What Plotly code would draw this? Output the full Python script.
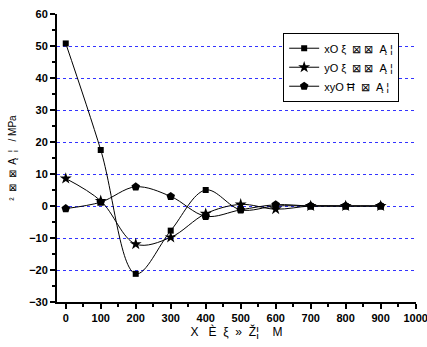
import plotly.graph_objects as go

depth = [0, 100, 200, 300, 400, 500, 600, 700, 800, 900]
sx = [50.8, 17.5, -21.2, -7.7, 5.0, -1.2, 0.0, 0.0, 0.0, 0.0]
sy = [8.6, 1.6, -11.9, -9.8, -2.4, 0.5, -1.0, 0.0, 0.0, 0.0]
sxy = [-0.8, 1.2, 6.0, 3.0, -3.2, -1.2, 0.4, 0.0, 0.0, 0.0]

names = ["xO ξ  ⊠ ⊠  Ą ¦", "yO ξ  ⊠ ⊠  Ą ¦", "xyO Ħ  ⊠  Ą ¦"]
xtitle = "X   Ѐ  ξ  »  Ž¦    M"
ytitle = "²  ⊠  ⊠  Ą  ¦   / MPa"
grid_vals = [-20, -10, 0, 10, 20, 30, 40, 50]

fig = go.Figure()
for ys, nm, sym, sz in [(sx, names[0], "square", 6), (sy, names[1], "star", 9), (sxy, names[2], "pentagon", 9)]:
    fig.add_trace(go.Scatter(
        x=depth, y=ys, name=nm, mode="lines+markers",
        line=dict(color="black", width=1, shape="spline", smoothing=1.0),
        marker=dict(symbol=sym, size=sz, color="black"),
    ))

fig.add_trace(go.Scatter(x=[None], y=[None], yaxis="y2", showlegend=False, hoverinfo="skip"))

tickfont = dict(family="Liberation Sans, Arial", size=11, color="black", weight="bold")
fig.update_layout(
    width=427, height=347,
    margin=dict(l=57, r=11, t=14, b=45, autoexpand=False),
    plot_bgcolor="white", paper_bgcolor="white",
    font=dict(family="Liberation Sans, Arial", color="black"),
    xaxis=dict(range=[-25, 1001], tickvals=list(range(0, 1001, 100)), automargin=False,
               ticklabeloverflow="allow",
               showgrid=False, zeroline=False, showline=True, linecolor="black", linewidth=2,
               ticks="outside", ticklen=5, tickwidth=2, tickcolor="black",
               minor=dict(ticks="outside", dtick=50, tick0=0, ticklen=3, tickwidth=2, tickcolor="black", showgrid=False),
               tickfont=tickfont,
               title=dict(text=xtitle, font=dict(size=12, color="black"), standoff=4)),
    yaxis=dict(range=[-30, 60], dtick=10, tick0=0, automargin=False,
               showgrid=False, zeroline=False, showline=True, linecolor="black", linewidth=2,
               ticks="outside", ticklen=5, tickwidth=2, tickcolor="black",
               minor=dict(ticks="outside", dtick=5, tick0=0, ticklen=3, tickwidth=2, tickcolor="black", showgrid=False),
               tickfont=tickfont,
               title=dict(text=ytitle, font=dict(size=10, color="black"), standoff=11)),
    yaxis2=dict(range=[-30, 60], overlaying="y", tickvals=grid_vals, showticklabels=False, automargin=False,
                showgrid=True, gridcolor="#3333ff", gridwidth=1, griddash="dot",
                zeroline=False, showline=False, ticks=""),
    legend=dict(x=0.63, y=0.935, xanchor="left", yanchor="top",
                bordercolor="black", borderwidth=1, bgcolor="white",
                font=dict(size=11, color="black"), tracegroupgap=0, itemwidth=30),
    showlegend=True,
)

fig.write_html("out.html", config={"displayModeBar": False},
               post_script="document.body.style.margin='0';")
